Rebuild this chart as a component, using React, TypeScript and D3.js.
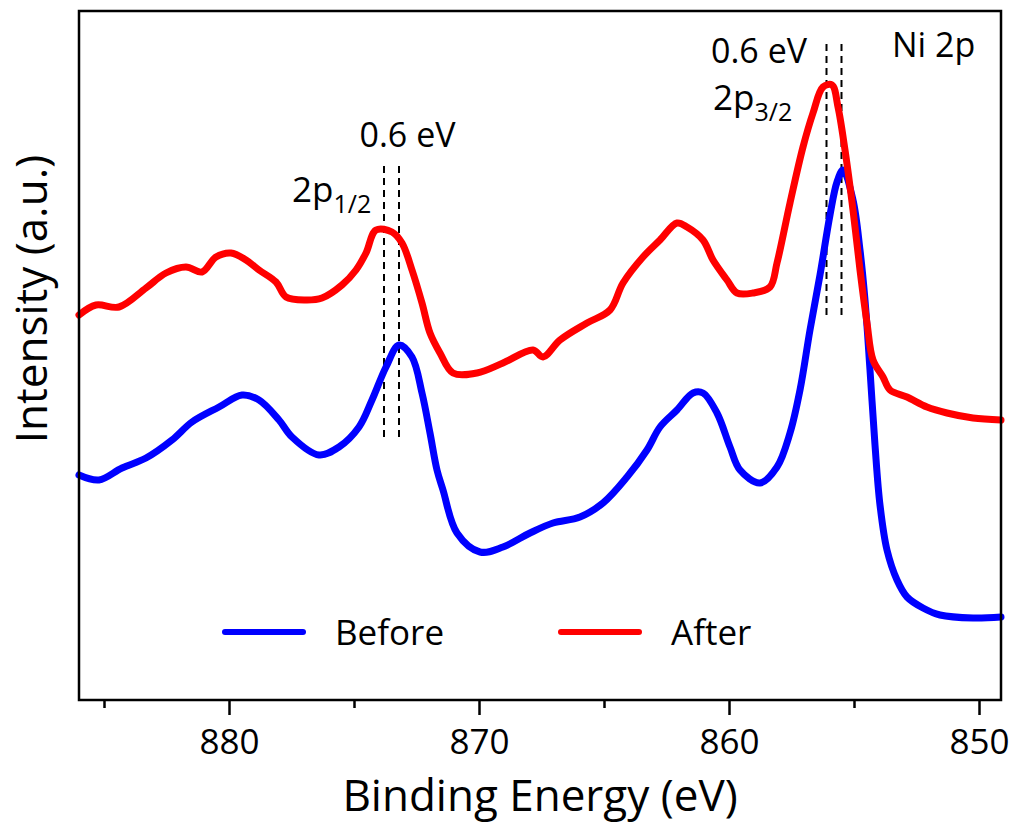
import { useEffect, useRef } from 'react'
import * as d3 from 'd3'

// Ni 2p XPS, binding energy (eV) vs intensity (a.u.)
const beforeData: [number, number][] = [
  [886.0, 225], [885.2, 220], [884.28, 232], [883.32, 242], [882.28, 260], [881.48, 278],
  [880.4, 293], [879.48, 305], [878.8, 300], [878.0, 280], [877.48, 263], [876.4, 245],
  [875.6, 253], [874.8, 273], [874.28, 300], [873.72, 333], [873.2, 355], [872.68, 343],
  [872.28, 307], [871.96, 267], [871.68, 230], [871.44, 210], [870.88, 167], [869.96, 148],
  [869.04, 153], [867.96, 167], [867.04, 177], [865.96, 183], [865.04, 197], [864.08, 223],
  [863.28, 250], [862.76, 273], [862.08, 290], [861.44, 307], [861.04, 307], [860.48, 287],
  [859.96, 253], [859.56, 230], [858.76, 217], [858.08, 233], [857.56, 267], [857.16, 310],
  [856.76, 370], [856.36, 425], [855.96, 485], [855.68, 518], [855.44, 530], [855.04, 500],
  [854.76, 450], [854.56, 400], [854.36, 330], [854.16, 255], [853.96, 195], [853.68, 150],
  [853.28, 120], [852.88, 103], [852.24, 92], [851.56, 85], [850.24, 82], [849.12, 83],
]

const afterData: [number, number][] = [
  [886.0, 385], [885.32, 395], [884.4, 393], [883.32, 412], [882.52, 427], [881.72, 433],
  [881.08, 428], [880.52, 443], [879.92, 447], [879.32, 440], [878.8, 430], [878.12, 418],
  [877.72, 403], [876.92, 400], [876.28, 402], [875.48, 415], [874.92, 430], [874.52, 447],
  [874.12, 470], [873.48, 468], [873.08, 457], [872.68, 430], [872.28, 397], [871.96, 367],
  [871.56, 347], [871.04, 327], [870.08, 327], [869.04, 337], [867.84, 350], [867.44, 343],
  [866.76, 360], [865.68, 377], [864.76, 390], [864.24, 417], [863.44, 443], [862.76, 460],
  [862.08, 477], [861.68, 473], [861.04, 460], [860.64, 440], [860.08, 420], [859.68, 407],
  [859.04, 407], [858.36, 413], [858.08, 437], [857.56, 497], [857.04, 553], [856.64, 587],
  [856.24, 613], [855.88, 615], [855.64, 593], [855.36, 550], [855.04, 490], [854.76, 430],
  [854.48, 377], [854.24, 340], [853.84, 323], [853.56, 310], [852.88, 303], [852.08, 293],
  [851.28, 287], [850.24, 282], [849.12, 280],
]

const majorTicks = [880, 870, 860, 850]
const minorTicks = [885, 875, 865, 855]

// peak positions marked by dashed lines (After, Before)
const peak12 = [873.8, 873.2]
const peak32 = [856.1, 855.5]

const seriesNames = ['Before', 'After']
const seriesColors = ['#0000ff', '#ff0000']

const W = 1011
const H = 826
const FONT = '"Open Sans", sans-serif'

export default function App() {
  const ref = useRef<SVGSVGElement | null>(null)

  useEffect(() => {
    const svg = d3.select(ref.current)
    svg.selectAll('*').remove()
    const left = 79
    const right = 1001
    const top = 11
    const bottom = 700

    const x = d3.scaleLinear().domain([886, 849.12]).range([left, right])
    const y = d3.scaleLinear().domain([0, 689]).range([bottom, top])

    const line = d3
      .line<[number, number]>()
      .x((d) => x(d[0]))
      .y((d) => y(d[1]))
      .curve(d3.curveCatmullRom.alpha(0.5))

    const g = svg.append('g')

    // dashed peak markers
    const dash = (e: number, y0: number, y1: number) =>
      g.append('line')
        .attr('x1', x(e)).attr('x2', x(e))
        .attr('y1', y(y0)).attr('y2', y(y1))
        .attr('stroke', '#000')
        .attr('stroke-width', 2)
        .attr('stroke-dasharray', '7 5')
    peak12.forEach((e) => dash(e, 534, 260))
    peak32.forEach((e) => dash(e, 656, 382))

    const series = [beforeData, afterData]
    series.forEach((data, i) => {
      g.append('path')
        .datum(data)
        .attr('fill', 'none')
        .attr('stroke', seriesColors[i])
        .attr('stroke-width', 7)
        .attr('stroke-linejoin', 'round')
        .attr('stroke-linecap', 'round')
        .attr('d', line as any)
    })

    // frame
    g.append('rect')
      .attr('x', left).attr('y', top)
      .attr('width', right - left).attr('height', bottom - top)
      .attr('fill', 'none').attr('stroke', '#000').attr('stroke-width', 2.5)

    const ax = g.append('g').attr('transform', `translate(0,${bottom})`)
      .call(d3.axisBottom(x).tickValues(majorTicks).tickSize(15).tickPadding(14).tickFormat(d3.format('d')) as any)
    const axm = g.append('g').attr('transform', `translate(0,${bottom})`)
      .call(d3.axisBottom(x).tickValues(minorTicks).tickSize(8).tickFormat(() => '') as any)
    ;[ax, axm].forEach((a) => {
      a.select('.domain').remove()
      a.selectAll('.tick line').attr('stroke', '#000').attr('stroke-width', 2.5)
    })
    ax.selectAll('.tick text')
      .attr('fill', '#000')
      .style('font-family', FONT)
      .style('font-size', '35px')

    const txt = (s: string, tx: number, ty: number, size: number, anchor = 'start') =>
      g.append('text')
        .attr('x', tx).attr('y', ty)
        .attr('text-anchor', anchor)
        .style('font-family', FONT)
        .style('font-size', `${size}px`)
        .attr('fill', '#000')
        .text(s)

    txt('Binding Energy (eV)', (left + right) / 2, 811, 44, 'middle')
    g.append('text')
      .attr('transform', `translate(47,299) rotate(-90)`)
      .attr('text-anchor', 'middle')
      .style('font-family', FONT)
      .style('font-size', '44px')
      .attr('fill', '#000')
      .text('Intensity (a.u.)')

    txt('Ni 2p', 892, 57, 34)

    const subLabel = (tx: number, ty: number, sub: string) => {
      const t = txt('2p', tx, ty, 35)
      t.append('tspan').attr('dy', 11).style('font-size', '25px').text(sub)
    }
    txt('0.6 eV', (x(peak12[0]) + x(peak12[1])) / 2 + 16, 147, 34, 'middle')
    subLabel(292, 202, '1/2')
    txt('0.6 eV', 711, 63, 34)
    subLabel(713, 110, '3/2')

    // legend
    const legX = [225, 561]
    seriesNames.forEach((name, i) => {
      g.append('line')
        .attr('x1', legX[i]).attr('x2', legX[i] + 78)
        .attr('y1', 632).attr('y2', 632)
        .attr('stroke', seriesColors[i])
        .attr('stroke-width', 6)
        .attr('stroke-linecap', 'round')
      txt(name, legX[i] + 110, 645, 35)
    })
  }, [])

  return (
    <div style={{ position: 'absolute', left: 0, top: 0, background: '#fff' }}>
      <svg ref={ref} width={W} height={H} style={{ display: 'block' }} />
    </div>
  )
}
